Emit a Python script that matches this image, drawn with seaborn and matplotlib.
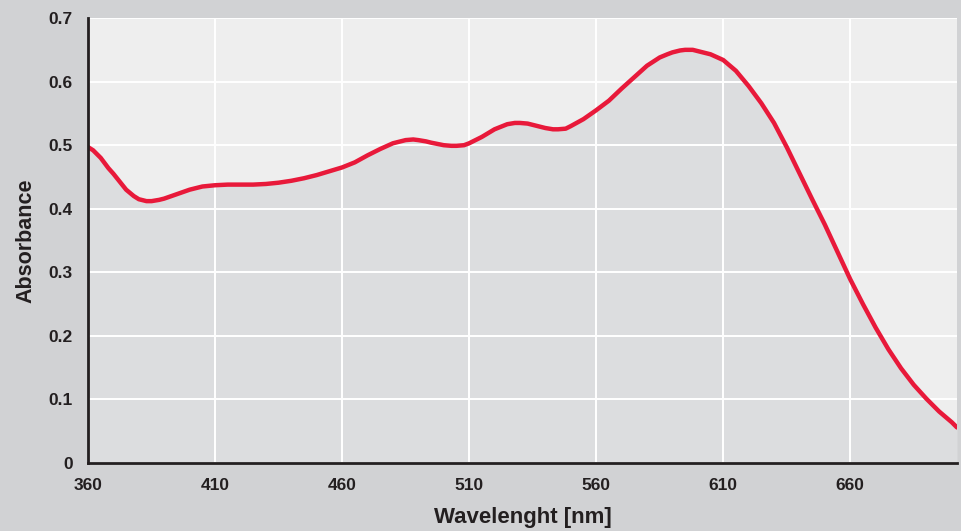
import numpy as np
import pandas as pd
import matplotlib
matplotlib.use("Agg")
import matplotlib.pyplot as plt
import seaborn as sns

# wavelength (nm) and absorbance
wavelength = [360, 362, 365, 368, 370, 373, 375, 378, 380, 383, 385, 388, 390, 395, 400,
              405, 410, 415, 420, 425, 430, 435, 440, 445, 450, 455, 460, 465, 470,
              475, 480, 483, 485, 488, 490, 493, 495, 500, 503, 505, 508, 510, 515,
              520, 525, 528, 530, 533, 535, 540, 543, 545, 548, 550, 555, 560, 565,
              570, 575, 580, 585, 588, 590, 593, 595, 598, 600, 605, 610, 615, 620,
              625, 630, 635, 640, 645, 650, 655, 660, 665, 670, 675, 680, 685, 690,
              695, 700, 702]
absorbance = [0.497, 0.492, 0.480, 0.464, 0.455, 0.440, 0.430, 0.420, 0.415, 0.412,
              0.412, 0.414, 0.416, 0.423, 0.430, 0.435, 0.437, 0.438, 0.438, 0.438,
              0.439, 0.441, 0.444, 0.448, 0.453, 0.459, 0.465, 0.473, 0.484, 0.494,
              0.503, 0.506, 0.508, 0.509, 0.508, 0.506, 0.504, 0.500, 0.499, 0.499,
              0.500, 0.503, 0.513, 0.525, 0.533, 0.535, 0.535, 0.534, 0.532, 0.527,
              0.525, 0.525, 0.526, 0.530, 0.541, 0.555, 0.570, 0.589, 0.607, 0.625,
              0.638, 0.643, 0.646, 0.649, 0.650, 0.650, 0.648, 0.643, 0.634, 0.617,
              0.593, 0.566, 0.535, 0.497, 0.456, 0.415, 0.375, 0.332, 0.289, 0.250,
              0.213, 0.179, 0.149, 0.123, 0.101, 0.081, 0.064, 0.056]
x_ticks = [360, 410, 460, 510, 560, 610, 660]
y_ticks = [0, 0.1, 0.2, 0.3, 0.4, 0.5, 0.6, 0.7]
y_labels = ["0", "0.1", "0.2", "0.3", "0.4", "0.5", "0.6", "0.7"]

df = pd.DataFrame({"Wavelength": wavelength, "Absorbance": absorbance})

sns.set_style("white")
plt.rcParams["font.family"] = ["Liberation Sans", "DejaVu Sans"]

fig = plt.figure(figsize=(9.61, 5.31), dpi=100, facecolor="#d1d2d4")
ax = fig.add_axes([0.0916, 0.128, 0.9042, 0.838])
ax.set_facecolor("#eeeeee")

ax.fill_between(df["Wavelength"], 0, df["Absorbance"], color="#dcdddf", zorder=1, lw=0)
ax.grid(True, color="white", lw=1.4, zorder=2)
ax.set_axisbelow(False)
sns.lineplot(data=df, x="Wavelength", y="Absorbance", ax=ax, color="#e8193a",
             lw=3.2, zorder=3)
ax.lines[-1].set_solid_joinstyle("round")

ax.set_xlim(360, 702)
ax.set_ylim(0, 0.7)
ax.set_xticks(x_ticks)
ax.set_yticks(y_ticks)
ax.set_yticklabels(y_labels)

for s in ["top", "right"]:
    ax.spines[s].set_visible(False)
for s in ["left", "bottom"]:
    ax.spines[s].set_color("#231f20")
    ax.spines[s].set_linewidth(2)
    ax.spines[s].set_zorder(4)

ax.tick_params(axis="both", direction="out", length=7, width=1.6, color="#231f20",
               labelsize=12.5, labelcolor="#231f20", pad=4)
for lab in ax.get_xticklabels() + ax.get_yticklabels():
    lab.set_fontweight("bold")

ax.set_xlabel("Wavelenght [nm]", fontsize=16, fontweight="bold", color="#231f20", labelpad=10)
ax.set_ylabel("Absorbance", fontsize=15.5, fontweight="bold", color="#231f20", labelpad=9)

fig.savefig("out.png", dpi=100, facecolor=fig.get_facecolor())
